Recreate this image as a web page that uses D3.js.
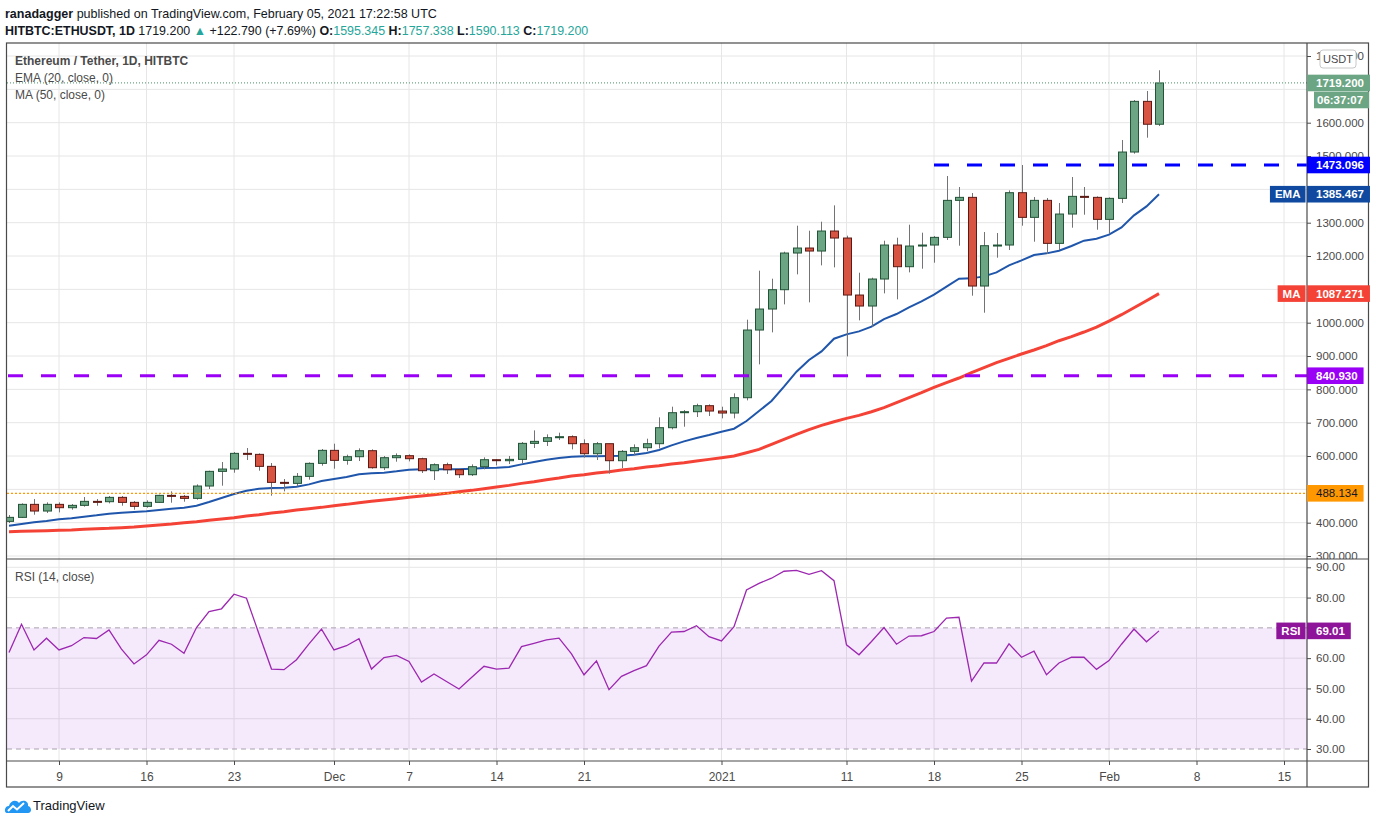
<!DOCTYPE html>
<html><head><meta charset="utf-8">
<script src="https://cdn.jsdelivr.net/npm/d3@7"></script>
<style>
html,body{margin:0;padding:0;background:#fff;}
svg text{font-family:"Liberation Sans",Arial,sans-serif;}
</style></head><body>
<svg id="c" width="1376" height="824"></svg>
<script>
// ---------- DATA ----------
const firstDay = "2020-11-05";   // first visible daily candle
const lastDay  = "2021-02-05";   // last candle
const opens  = [404,416,455,435,455,445,452,464,463,476,461,449,461,482,479,473,510,554,561,608,605,569,521,518,539,578,617,587,598,616,565,595,601,592,556,574,559,544,568,589,586,590,638,644,655,658,637,607,637,586,614,625,637,685,730,733,751,735,729,775,978,1041,1099,1209,1224,1215,1275,1254,1083,1050,1131,1233,1168,1230,1233,1256,1367,1376,1110,1231,1233,1390,1316,1367,1238,1326,1379,1376,1310,1373,1512,1664,1595.345];
const highs  = [423,458,471,461,461,456,477,471,480,480,465,467,484,494,483,515,556,582,612,624,608,579,531,549,581,621,637,604,623,620,600,608,605,595,578,580,562,575,596,590,600,642,677,665,670,662,650,642,637,618,635,652,716,748,738,757,755,748,788,1009,1156,1132,1213,1291,1276,1303,1352,1261,1150,1135,1246,1255,1294,1270,1260,1440,1407,1389,1272,1269,1397,1473,1377,1374,1359,1437,1407,1379,1376,1548,1668,1695,1757.338];
const lows   = [399,414,424,429,431,439,448,451,458,451,439,445,460,460,463,469,501,511,550,588,556,481,494,509,529,571,562,574,585,562,558,583,584,549,528,546,534,540,560,572,576,578,624,630,648,620,595,588,547,564,602,615,623,680,688,717,720,713,713,767,875,971,1055,1145,1061,1172,1166,899,1007,988,1088,1070,1151,1162,1180,1248,1231,1081,1030,1195,1218,1291,1243,1206,1218,1285,1324,1279,1268,1359,1507,1555,1590.113];
const closes = [416,455,435,455,445,452,464,463,476,461,449,461,482,479,473,510,554,561,608,605,569,521,518,539,578,617,587,598,616,565,595,601,592,556,574,559,544,568,589,586,590,638,644,655,658,637,607,637,586,614,625,637,685,730,733,751,735,729,775,978,1041,1099,1209,1224,1215,1275,1254,1083,1050,1131,1233,1168,1230,1233,1256,1367,1376,1110,1231,1233,1390,1316,1367,1238,1326,1379,1376,1310,1373,1512,1664,1595.345,1719.2];
const ema20  = [391,396,401,405,410,413,418,422,427,430,432,434,438,442,445,451,462,474,486,496,502,504,505,508,515,525,531,537,545,548,550,554,559,560,560,560,560,562,564,565,567,575,582,589,594,598,599,599,600,601,604,609,618,632,644,654,663,673,682,705,735,765,808,853,888,914,952,965,974,988,1011,1026,1046,1064,1084,1108,1132,1133,1139,1151,1172,1187,1203,1208,1216,1230,1246,1252,1264,1286,1322,1349,1385.467];
const ma50   = [373,374,375,376,377,378,380,382,383,385,387,390,393,396,400,403,407,411,415,420,424,429,433,438,442,446,451,455,460,464,468,472,476,480,484,488,493,497,502,507,512,518,523,529,534,540,544,549,553,558,562,567,571,576,580,585,590,595,600,610,620,635,650,665,679,692,703,713,722,733,745,760,775,790,806,820,834,850,865,880,893,906,918,931,946,958,972,987,1005,1024,1045,1066,1087.271];
const rsi14  = [61.9,71.2,62.7,66.6,62.7,64.1,66.8,66.5,69.3,63.0,58.1,61.1,65.9,64.6,61.6,70.1,75.4,76.3,81.1,79.8,68.0,56.4,56.2,59.5,64.7,69.6,62.7,64.1,66.4,56.4,60.2,60.9,58.9,52.1,54.8,52.3,49.8,53.6,57.3,56.4,56.7,63.8,64.9,66.0,66.6,61.4,54.5,59.1,49.6,54.0,55.9,57.5,64.0,68.6,68.8,70.7,67.1,65.7,70.4,82.5,84.7,86.4,88.7,89.0,87.7,88.9,85.6,64.4,61.1,65.5,70.1,64.6,67.3,67.4,68.8,73.2,73.5,52.4,58.4,58.4,64.7,60.3,62.3,54.5,58.4,60.3,60.3,56.3,59.2,64.6,69.6,65.4,69.01];
const xTickDates  = ["2020-11-09","2020-11-16","2020-11-23","2020-12-01","2020-12-07","2020-12-14","2020-12-21","2021-01-01","2021-01-11","2021-01-18","2021-01-25","2021-02-01","2021-02-08","2021-02-15"];
const xTickLabels = ["9","16","23","Dec","7","14","21","2021","11","18","25","Feb","8","15"];
const priceTicks  = [300,400,500,600,700,800,900,1000,1100,1200,1300,1400,1500,1600,1700,1800];
const rsiTicks    = [30,40,50,60,70,80,90];
const coveredPriceLabels = [500,1100,1400,1700];   // (almost) fully hidden behind price tags in the reference
const coveredRsiLabels   = [70];
const resistance  = {value:1473.096, from:"2021-01-18"};
const support     = 840.930;
const lowLevel    = 488.134;
const lastPrice   = 1719.2;
const countdown   = "06:37:07";
const lastEma = 1385.467, lastMa = 1087.271, lastRsi = 69.01;

// ---------- LAYOUT ----------
const L = 7, R = 1307, AR = 1369, T = 43, P1B = 559, P2B = 761, XB = 787;
const svg = d3.select("#c");
const parse = d3.utcParse("%Y-%m-%d");
const dates = d3.utcDay.range(parse(firstDay), d3.utcDay.offset(parse(lastDay), 1));
const x = d3.scaleUtc().domain([parse("2020-11-05"), parse("2021-02-15")]).range([9, 1284]);
const y = d3.scaleLinear().domain([300, 1800]).range([556.03, 56.03]);
const yr = d3.scaleLinear().domain([30, 90]).range([749, 567.3]);
const tickD = xTickDates.map(parse);

const defs = svg.append("defs");
defs.append("clipPath").attr("id","cp1").append("rect").attr("x",L).attr("y",T).attr("width",R-L).attr("height",P1B-T);
defs.append("clipPath").attr("id","cp2").append("rect").attr("x",L).attr("y",P1B).attr("width",R-L).attr("height",P2B-P1B);
defs.append("clipPath").attr("id","ca1").append("rect").attr("x",R).attr("y",T).attr("width",AR-R).attr("height",P1B-T);
defs.append("clipPath").attr("id","ca2").append("rect").attr("x",R).attr("y",P1B).attr("width",AR-R).attr("height",P2B-P1B);

// ---------- HEADER ----------
function fitText(sel, base, target) {
  const w = sel.node().getComputedTextLength();
  sel.attr("font-size", base * target / w);
}
const h1 = svg.append("text").attr("x",5).attr("y",18).attr("font-size",13.5).attr("fill","#131722");
h1.append("tspan").attr("font-weight","bold").text("ranadagger");
h1.append("tspan").text(" published on TradingView.com, February 05, 2021 17:22:58 UTC");
fitText(h1, 13.5, 432);
const teal = "#26a69a";
const h2 = svg.append("text").attr("x",5).attr("y",35).attr("font-size",13.5).attr("fill","#131722");
[["HITBTC:ETHUSDT, 1D",true,null],[" 1719.200 ",false,null],["▲",false,teal],[" +122.790 (+7.69%) ",false,null],
 ["O:",true,null],["1595.345",false,teal],[" H:",true,null],["1757.338",false,teal],[" L:",true,null],["1590.113",false,teal],[" C:",true,null],["1719.200",false,teal]]
 .forEach(([t,b,c]) => { const s = h2.append("tspan").text(t); if (b) s.attr("font-weight","bold"); if (c) s.attr("fill",c); });
fitText(h2, 13.5, 584);

// ---------- GRID ----------
const grid = svg.append("g").attr("stroke","#e6e6e6").attr("stroke-width",1);
grid.selectAll(".v").data(tickD).join("line").attr("x1",d=>x(d)).attr("x2",d=>x(d)).attr("y1",T).attr("y2",P2B);
grid.append("g").attr("clip-path","url(#cp1)").selectAll("line").data(priceTicks).join("line")
  .attr("x1",L).attr("x2",R).attr("y1",d=>y(d)).attr("y2",d=>y(d));
grid.selectAll(".hr").data(rsiTicks.filter(d=>d!==30 && d!==70)).join("line")
  .attr("x1",L).attr("x2",R).attr("y1",d=>yr(d)).attr("y2",d=>yr(d));

// ---------- PRICE PANE ----------
const p1 = svg.append("g").attr("clip-path","url(#cp1)");
p1.append("path").datum(ma50).attr("fill","none").attr("stroke","#f44336").attr("stroke-width",3)
  .attr("d", d3.line().x((d,i)=>x(dates[i])).y(d=>y(d)));
p1.append("path").datum(ema20).attr("fill","none").attr("stroke","#1f56ab").attr("stroke-width",2)
  .attr("d", d3.line().x((d,i)=>x(dates[i])).y(d=>y(d)));

const candles = dates.map((d,i)=>({d, o:opens[i], h:highs[i], l:lows[i], c:closes[i]}));
const cg = p1.append("g");
cg.selectAll(".w").data(candles).join("line")
  .attr("x1",d=>Math.round(x(d.d))+0.5).attr("x2",d=>Math.round(x(d.d))+0.5)
  .attr("y1",d=>y(d.h)).attr("y2",d=>y(d.l)).attr("stroke","#737375").attr("stroke-width",1);
cg.selectAll(".b").data(candles).join("rect")
  .attr("x",d=>Math.round(x(d.d))-3.5).attr("width",8)
  .attr("y",d=>y(Math.max(d.o,d.c))).attr("height",d=>Math.max(1, Math.abs(y(d.o)-y(d.c))))
  .attr("fill",d=>d.c>=d.o?"#6ba583":"#d75442")
  .attr("stroke",d=>d.c>=d.o?"#225437":"#5b1a13").attr("stroke-width",1);

// level lines
p1.append("line").attr("x1",L).attr("x2",R).attr("y1",y(lowLevel)).attr("y2",y(lowLevel))
  .attr("stroke","#ff9800").attr("stroke-width",1.2).attr("stroke-dasharray","2,2");
p1.append("line").attr("x1",L).attr("x2",R).attr("y1",y(lastPrice)).attr("y2",y(lastPrice))
  .attr("stroke","#6ba583").attr("stroke-width",1.2).attr("stroke-dasharray","1,2");
p1.append("line").attr("x1",8).attr("x2",R).attr("y1",y(support)).attr("y2",y(support))
  .attr("stroke","#9a00f5").attr("stroke-width",3).attr("stroke-dasharray","15,18");
p1.append("line").attr("x1",x(parse(resistance.from))).attr("x2",R).attr("y1",y(resistance.value)).attr("y2",y(resistance.value))
  .attr("stroke","#0000ff").attr("stroke-width",3).attr("stroke-dasharray","15,18");

// legend texts
const lg = svg.append("g").attr("font-size",12).attr("fill","#4a4a4a");
lg.append("text").attr("x",15).attr("y",65).attr("font-weight","bold").text("Ethereum / Tether, 1D, HITBTC");
lg.append("text").attr("x",15).attr("y",82).text("EMA (20, close, 0)");
lg.append("text").attr("x",15).attr("y",99).text("MA (50, close, 0)");
lg.append("text").attr("x",15).attr("y",581).text("RSI (14, close)");

// ---------- RSI PANE ----------
const p2 = svg.append("g").attr("clip-path","url(#cp2)");
p2.append("rect").attr("x",L).attr("width",R-L).attr("y",yr(70)).attr("height",yr(30)-yr(70))
  .attr("fill","#9c27e0").attr("fill-opacity",0.1);
[70,30].forEach(v => p2.append("line").attr("x1",L).attr("x2",R).attr("y1",yr(v)).attr("y2",yr(v))
  .attr("stroke","#a8a0ae").attr("stroke-dasharray","5,4"));
p2.append("path").datum(rsi14).attr("fill","none").attr("stroke","#9c27b0").attr("stroke-width",1.3)
  .attr("d", d3.line().x((d,i)=>x(dates[i])).y(d=>yr(d)));

// ---------- AXES ----------
const ax1 = svg.append("g").attr("clip-path","url(#ca1)").append("g").attr("transform",`translate(${R},0)`)
  .call(d3.axisRight(y).tickValues(priceTicks).tickFormat(d => coveredPriceLabels.includes(d) ? "" : d3.format(".3f")(d)).tickSize(4).tickPadding(5));
const ax2 = svg.append("g").attr("clip-path","url(#ca2)").append("g").attr("transform",`translate(${R},0)`)
  .call(d3.axisRight(yr).tickValues(rsiTicks).tickFormat(d => coveredRsiLabels.includes(d) ? "" : d3.format(".2f")(d)).tickSize(4).tickPadding(5));
const ax3 = svg.append("g").attr("transform",`translate(0,${P2B})`)
  .call(d3.axisBottom(x).tickValues(tickD).tickFormat((d,i)=>xTickLabels[i]).tickSize(4).tickPadding(7));
[ax1,ax2,ax3].forEach(a => {
  a.select(".domain").remove();
  a.selectAll("text").attr("font-family",null).attr("font-size",11.5).attr("fill","#4a4a4a");
  a.selectAll("line").attr("stroke","#4a4a4a");
});
ax3.selectAll("text").attr("font-size",12);

// ---------- FRAME ----------
const fr = svg.append("g").attr("stroke","#4a4a4a").attr("stroke-width",1.2).attr("fill","none");
fr.append("rect").attr("x",L-0.5).attr("y",T).attr("width",AR-L).attr("height",XB-T);
fr.append("line").attr("x1",L).attr("x2",AR).attr("y1",P1B).attr("y2",P1B);
fr.append("line").attr("x1",L).attr("x2",AR).attr("y1",P2B).attr("y2",P2B);
fr.append("line").attr("x1",R).attr("x2",R).attr("y1",T).attr("y2",XB);

// ---------- TAGS ----------
function tag(xl, yc, txt, bg, fg, opts={}) {
  const g = svg.append("g");
  const pad = opts.pad==null ? 9 : opts.pad;
  const t = g.append("text").attr("x", xl + pad).attr("y", yc+4).attr("font-size",11.5)
    .attr("fill",fg).attr("font-weight",opts.bold?"bold":null).text(txt);
  const w = opts.w || (t.node().getComputedTextLength() + pad + 6);
  g.insert("rect","text").attr("x",xl).attr("y",yc-8.3).attr("width",w).attr("height",16.6).attr("fill",bg);
  return g;
}
function leftTag(xr, yc, txt, bg) {
  const g = svg.append("g");
  const t = g.append("text").attr("x", xr-5).attr("y", yc+4).attr("font-size",11.5).attr("text-anchor","end")
    .attr("fill","#fff").attr("font-weight","bold").text(txt);
  const w = t.node().getComputedTextLength() + 10;
  g.insert("rect","text").attr("x",xr-w).attr("y",yc-8.3).attr("width",w).attr("height",16.6).attr("fill",bg);
}
tag(R, y(lastPrice), d3.format(".3f")(lastPrice), "#6ba583", "#fff", {bold:true});
tag(R+7, y(lastPrice)+17, countdown, "#6ba583", "#fff", {bold:true, pad:3});
tag(R, y(resistance.value), d3.format(".3f")(resistance.value), "#0000ff", "#fff", {bold:true});
tag(R, y(lastEma), d3.format(".3f")(lastEma), "#0f4aa0", "#fff", {bold:true});
leftTag(R-1.5, y(lastEma), "EMA", "#0f4aa0");
tag(R, y(lastMa), d3.format(".3f")(lastMa), "#f44336", "#fff", {bold:true});
leftTag(R-1.5, y(lastMa), "MA", "#f44336");
tag(R, y(support), d3.format(".3f")(support), "#9a00f5", "#fff", {bold:true});
tag(R, y(lowLevel), d3.format(".3f")(lowLevel), "#ff9800", "#131722", {});
tag(R, yr(lastRsi), d3.format(".2f")(lastRsi), "#8e1599", "#fff", {bold:true});
leftTag(R-1.5, yr(lastRsi), "RSI", "#8e1599");

// USDT box
const ub = svg.append("g");
ub.append("rect").attr("x",1320).attr("y",50).attr("width",36).attr("height",18).attr("rx",3)
  .attr("fill","#fff").attr("stroke","#c8c8c8");
ub.append("text").attr("x",1338).attr("y",63).attr("text-anchor","middle").attr("font-size",11).attr("fill","#4a4a4a").text("USDT");

// ---------- LOGO ----------
const lgo = svg.append("g").attr("transform","translate(5,797)");
lgo.append("path").attr("d","M2,16 C-1,16 -1,9 4,9 C5,4 11,2 14,6 C17,2 24,4 23,9 C27,10 27,16 23,16 Z").attr("fill","#2196f3");
lgo.append("path").attr("d","M3,14 L8,9 L12,12.5 L19,6").attr("fill","none").attr("stroke","#fff").attr("stroke-width",2);
svg.append("text").attr("x",33).attr("y",810).attr("font-size",13).attr("fill","#131722").text("TradingView");
</script></body></html>
